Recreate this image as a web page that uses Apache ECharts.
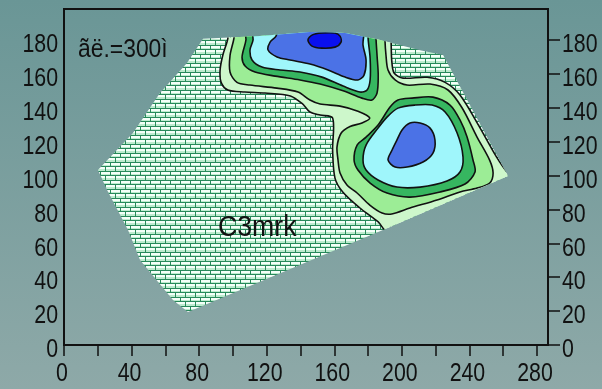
<!DOCTYPE html>
<html>
<head>
<meta charset="utf-8">
<script src="https://cdn.jsdelivr.net/npm/echarts@6/dist/echarts.min.js"></script>
<style>
  html, body { margin: 0; padding: 0; background: #7c9f9e; }
  #chart { width: 602px; height: 389px; }
</style>
</head>
<body>
<div id="chart"></div>
<script>
// axis ticks / labels
const xTicks = [0, 20, 40, 60, 80, 100, 120, 140, 160, 180, 200, 220, 240, 260, 280];
const xLabels = [0, 40, 80, 120, 160, 200, 240, 280];
const yTicks = [0, 20, 40, 60, 80, 100, 120, 140, 160, 180];

// outline of the mapped area (brick fill)
const hullPts = [
  [82.3, 180.8], [116, 182.3], [145.6, 184.7], [166.4, 184.1], [187.1, 180], [210.8, 174],
  [224.4, 171.1], [262.8, 99.7], [193, 69.6], [73.4, 19.5], [64.5, 26.6], [45, 50.2],
  [37.9, 67.9], [25.5, 91.5], [20.1, 103.3], [40.8, 125.1], [56.8, 148.7], [72.8, 166.4]
];

// contour level 1 (pale green)
const lvl1 = [
  [97, 189], [97, 181], [94, 171], [92.4, 162.3], [93, 155], [97, 150.5], [107, 149.3],
  [119, 148.7], [134, 147], [141.5, 142], [145.6, 137.5], [151.6, 135.7], [159, 134],
  [159, 115], [160.4, 98.5], [165, 90.3], [175, 81], [186, 72.6], [192, 66.7], [240, 84.4],
  [267, 98.5], [262.3, 102], [256, 111], [246, 128.6], [234.4, 147.5], [225.6, 155],
  [215, 158], [200.7, 157.5], [195.4, 160.5], [194, 168], [193.6, 180], [193, 189]
];

// contour level 2 (light green)
const lvl2 = [
  [101.2, 189], [100.6, 181], [98.3, 171], [98.3, 161], [102.4, 155], [110, 153.4],
  [126, 151.6], [138.5, 149.3], [145.6, 144.6], [151.6, 142.2], [163.4, 141], [174, 138],
  [181, 134], [176.4, 131], [169.3, 129], [164, 125], [161.6, 116.8], [162.2, 109.2],
  [163.4, 101.5], [167.5, 94.4], [173.5, 89.7], [181, 82.6], [188.3, 77.9], [194, 77.3],
  [204.8, 80.8], [220.8, 85.6], [234.4, 90.3], [244.5, 92.6], [252, 95.6], [254, 101.5],
  [252, 109], [244.5, 122.7], [235.6, 140], [227.3, 150.5], [216.7, 154], [203, 153.4],
  [196, 156.4], [191.8, 162.3], [190.6, 171], [190, 180], [190, 189]
];

// contour level 3 (green), two rings
const lvl3Top = [
  [107.7, 189], [107.7, 180], [105.4, 170], [107.2, 164.6], [113.1, 161.1], [125, 158.7],
  [139.7, 156.4], [151.6, 154], [165.2, 150], [176.4, 145.7], [182.3, 144.6], [185.3, 148.7],
  [186, 159.3], [185.3, 171], [184.7, 181], [184.7, 189]
];
const lvl3Right = [
  [171.7, 109.2], [173.5, 118], [178.8, 122.7], [185.9, 129.8], [193, 140.4], [197.7, 144.6],
  [206, 145.7], [218.4, 146.3], [228.5, 141.6], [234.4, 132.8], [238.6, 122.7], [242.1, 109.2],
  [243.3, 102.1], [237.4, 95], [222.6, 90.3], [204.8, 87.3], [191.2, 89.7], [181.2, 95.6],
  [174, 103.3]
];

// contour level 4 (light cyan)
const lvl4Top = [
  [111.9, 189], [111.9, 180], [110.1, 174.1], [111.3, 168.2], [117.2, 164], [127.9, 162.3],
  [139.7, 161.1], [152.7, 158.1], [165.2, 152.8], [175.2, 149.3], [179.4, 150.5],
  [181.2, 156.4], [181.2, 169.3], [180, 181], [180, 189]
];
const lvl4Right = [
  [177, 109.2], [178.8, 118], [185.9, 128], [191.2, 134.5], [197.7, 139.8], [207.8, 141.6],
  [217.9, 141.6], [225.6, 137.5], [232.7, 125.1], [236.2, 110.9], [234.4, 102.1],
  [226.7, 96.8], [210.8, 93.2], [197.1, 93.2], [185.9, 97.4], [178.8, 103.3]
];

// contour level 5 (blue)
const lvl5Top = [
  [126.1, 170], [120.8, 174.1], [122, 178.8], [125.5, 182.3], [127.9, 189], [176.4, 189],
  [177, 177], [178.8, 168.2], [177.6, 159.3], [174, 156.4], [166.4, 158.1], [156.3, 162.3],
  [145.6, 165.8], [133.8, 168.2]
];
const lvl5Right = [
  [191.8, 109.2], [194.2, 115.1], [197.1, 121], [200.1, 126.9], [204.8, 131], [210.8, 131],
  [216.7, 128], [219.6, 121], [218.4, 113.3], [212.5, 108], [203.1, 105], [196, 105]
];

// contour level 6 (dark blue)
const lvl6 = [
  [144.4, 180], [146.8, 182.9], [152.7, 184.1], [160.4, 184.1], [163.4, 182.3],
  [164, 178.8], [160.4, 175.8], [152.7, 175.2], [146.8, 176.4]
];

const layers = [
  { pts: hullPts, brick: true },
  { pts: lvl1, color: '#cdf7cb' },
  { pts: lvl2, color: '#9ced96' },
  { pts: lvl3Top, color: '#36b660' },
  { pts: lvl3Right, color: '#36b660' },
  { pts: lvl4Top, color: '#9ff6fb' },
  { pts: lvl4Right, color: '#9ff6fb' },
  { pts: lvl5Top, color: '#4b72e6' },
  { pts: lvl5Right, color: '#4b72e6' },
  { pts: lvl6, color: '#0a10ee' }
];

function makeBrick() {
  const c = document.createElement('canvas');
  c.width = 10;
  c.height = 9;
  const g = c.getContext('2d');
  g.fillStyle = '#f4fff8';
  g.fillRect(0, 0, 10, 9);
  g.fillStyle = '#bdeccf';
  g.fillRect(0, 3, 10, 1);
  g.fillRect(0, 7, 10, 2);
  g.fillStyle = '#27895a';
  g.fillRect(0, 0, 10, 1);
  g.fillRect(0, 4, 10, 1);
  g.fillRect(0, 0, 1, 4);
  g.fillRect(5, 4, 1, 5);
  return c;
}
const brickCanvas = makeBrick();

const FONT = "'Liberation Sans', Arial, sans-serif";
const NARROW = 0.82;
const ink = '#111';

// label entries: [value, which axis]
const labelItems = []
  .concat(xLabels.map(v => [v, 0]))
  .concat(yTicks.map(v => [v, 1]))
  .concat(yTicks.map(v => [v, 2]));

const chart = echarts.init(document.getElementById('chart'));

const option = {
  animation: false,
  backgroundColor: {
    type: 'linear', x: 0, y: 0, x2: 0, y2: 1,
    colorStops: [{ offset: 0, color: '#6a9696' }, { offset: 1, color: '#8ea9a8' }]
  },
  grid: {
    left: 64, right: 54, top: 9, bottom: 44,
    show: true, borderColor: ink, borderWidth: 2, backgroundColor: 'transparent'
  },
  xAxis: {
    type: 'value', min: 0, max: 286.5, interval: 20,
    axisLine: { show: true, lineStyle: { color: ink, width: 2 } },
    axisTick: { show: true, length: 11, customValues: xTicks, lineStyle: { color: ink, width: 1.5 } },
    axisLabel: { show: false },
    splitLine: { show: false }
  },
  yAxis: [
    {
      type: 'value', position: 'left', min: 0, max: 198.3, interval: 20,
      axisLine: { show: true, lineStyle: { color: ink, width: 2 } },
      axisTick: { show: false },
      axisLabel: { show: false },
      splitLine: { show: false }
    },
    {
      type: 'value', position: 'right', min: 0, max: 198.3, interval: 20,
      axisLine: { show: true, lineStyle: { color: ink, width: 2 } },
      axisTick: { show: true, length: 12, customValues: yTicks, lineStyle: { color: ink, width: 1.5 } },
      axisLabel: { show: false },
      splitLine: { show: false }
    }
  ],
  graphic: [
    {
      type: 'text', x: 78, y: 50, scaleX: 0.88, z: 100,
      style: { text: 'ãë.=300ì', font: '26px ' + FONT, fill: ink, verticalAlign: 'middle' }
    },
    {
      type: 'text', x: 218, y: 228, scaleX: 0.92, z: 100,
      style: { text: 'C3mrk', font: '29px ' + FONT, fill: ink, verticalAlign: 'middle' }
    }
  ],
  series: [
    {
      type: 'custom',
      coordinateSystem: 'cartesian2d',
      silent: true,
      data: layers.map((l, i) => [i, 0]),
      renderItem: (params, api) => {
        const layer = layers[params.dataIndex];
        const pts = layer.pts.map(p => api.coord(p));
        if (layer.brick) {
          return {
            type: 'polygon', z2: 0,
            shape: { points: pts },
            style: { fill: { image: brickCanvas, repeat: 'repeat' }, stroke: null }
          };
        }
        const clip = hullPts.map(p => api.coord(p));
        return {
          type: 'polygon', z2: params.dataIndex,
          shape: { points: pts, smooth: 0.3 },
          style: { fill: layer.color, stroke: ink, lineWidth: 1.6 },
          clipPath: { type: 'polygon', shape: { points: clip } }
        };
      }
    },
    {
      // tick labels in a tall narrow face, placed through the axes
      type: 'custom',
      coordinateSystem: 'cartesian2d',
      silent: true,
      clip: false,
      z: 5,
      data: labelItems.map(d => [0, 0]),
      renderItem: (params, api) => {
        const [v, axis] = labelItems[params.dataIndex];
        let pos, align, dx, dy;
        if (axis === 0) {
          pos = api.coord([v, 0]); align = 'center'; dx = -2; dy = 29;
        } else if (axis === 1) {
          pos = api.coord([0, v]); align = 'right'; dx = -6; dy = 5;
        } else {
          pos = api.coord([286.5, v]); align = 'left'; dx = 14; dy = 5;
        }
        return {
          type: 'text',
          x: pos[0] + dx, y: pos[1] + dy, scaleX: NARROW,
          style: {
            text: String(v), font: '26px ' + FONT, fill: ink,
            align: align, verticalAlign: 'middle'
          }
        };
      }
    }
  ]
};

chart.setOption(option);
</script>
</body>
</html>
